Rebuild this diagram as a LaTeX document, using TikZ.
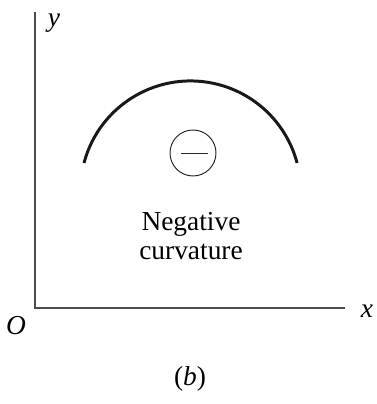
\documentclass[tikz,border=0pt]{standalone}
\usepackage{fontspec}
\setmainfont{Liberation Serif}
\usetikzlibrary{calc}

\begin{document}
\begin{tikzpicture}[
  x=0.02cm, y=0.02cm,
  axis/.style={draw=black!70, line width=0.7pt},
  curve/.style={draw=black!90, line width=1.7pt},
  sign/.style={circle, draw=black!85, line width=0.55pt, minimum size=0.92cm, inner sep=0pt},
  txt/.style={font=\fontsize{15.6}{16.4}\selectfont, inner sep=0pt, anchor=base},
]
\useasboundingbox (0,0) rectangle (376,404);

% axes
\coordinate (O) at (35,96);
\coordinate (xend) at (345,96);
\coordinate (yend) at (35,392);
\draw[axis] (yend) -- (O) -- (xend);

\node[txt] (ylab) at (54,377) {\textit{y}};
\node[txt] (xlab) at (367,86) {\textit{x}};
\node[txt] (olab) at (16,69) {\textit{O}};

% the curve
\coordinate (arcstart) at (84,241);
\draw[curve] (arcstart) arc[start angle=165.2, end angle=14.8, radius=110.2];

\node[sign] (minus) at (193,251) {};
\draw[line width=0.55pt, draw=black!85] ($(minus.center)+(-12,0)$) -- ($(minus.center)+(15,0)$);

\node[txt] (neg) at (191,173) {Negative};
\node[txt] (curv) at (191,144) {curvature};

\node[txt] (cap) at (190,18) {(\textit{b})};
\end{tikzpicture}
\end{document}
